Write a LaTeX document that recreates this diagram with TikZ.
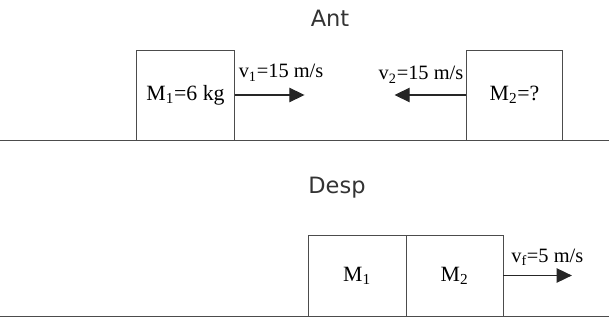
\documentclass[tikz,border=0pt]{standalone}
\usepackage{fontspec}
\setmainfont{Liberation Serif}
\newfontfamily\headfont{DejaVu Sans}
\usetikzlibrary{positioning, arrows.meta, calc}

\begin{document}
\begin{tikzpicture}[
	x=0.025cm, y=-0.025cm, % one unit = one pixel of the sketch
	>={Triangle[length=0.38cm, width=0.36cm]},
	% Style for the blocks
	block/.style={
		rectangle,
		draw=black!70,
		line width=0.6pt,
		outer sep=0pt,
		inner sep=0pt,
		minimum width=2.45cm,
		minimum height=2.25cm,
		font=\fontsize{15.5}{17}\selectfont
	},
	% Style for the velocity arrows
	vel/.style={->, draw=black!85, line width=0.8pt},
	% Style for the velocity labels
	lbl/.style={inner sep=0pt, font=\fontsize{14.5}{16}\selectfont},
	% Style for the floor
	ground/.style={draw=black!70, line width=0.7pt},
	% Style for the titles
	title/.style={font=\headfont\fontsize{16}{18}\selectfont, text=black!80}
	]

	\useasboundingbox (0,0) rectangle (609,327);

	% --- BEFORE ---
	\node[title] (Ant) at (330,18) {Ant};

	\coordinate (FloorA) at (0,140);
	\coordinate (FloorB) at (609,140);
	\draw[ground] (FloorA) -- (FloorB);

	\node[block] (M1) at (185.5,95) {M\textsubscript{1}=6 kg};
	\node[block, minimum width=2.4cm] (M2) at (514.5,95) {M\textsubscript{2}=?};

	\coordinate[right=1.75cm of M1.east] (V1tip);
	\coordinate[left=1.8cm of M2.west] (V2tip);

	\draw[vel] (M1.east) -- (V1tip);
	\draw[vel] (M2.west) -- (V2tip);

	\node[lbl, anchor=base west] (V1) at ($(M1.east)+(4,-17)$) {v\textsubscript{1}=15 m/s};
	\node[lbl, anchor=base east] (V2) at ($(M2.west)+(-3,-15)$) {v\textsubscript{2}=15 m/s};

	% --- AFTER ---
	\node[title] (Desp) at (337,188) {Desp};

	\coordinate (FloorC) at (0,316);
	\coordinate (FloorD) at (609,316);
	\draw[ground] (FloorC) -- (FloorD);

	\node[block, minimum width=2.45cm, minimum height=2.025cm] (C1) at (357,275.5) {\raisebox{-0.15cm}{M\textsubscript{1}}};
	\node[block, minimum width=2.425cm, minimum height=2.025cm, right=0pt of C1] (C2) {\raisebox{-0.15cm}{M\textsubscript{2}}};

	\coordinate[right=1.72cm of C2.east] (VFtip);
	\draw[vel] (C2.east) -- (VFtip);

	\node[lbl, anchor=base west] (VF) at ($(C2.east)+(8,-13)$) {v\textsubscript{f}=5 m/s};

\end{tikzpicture}
\end{document}
